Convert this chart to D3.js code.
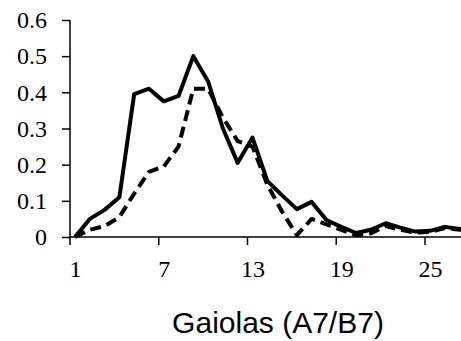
<!DOCTYPE html>
<html>
<head>
<meta charset="utf-8">
<script src="https://cdn.jsdelivr.net/npm/d3@7"></script>
<style>
  body { margin: 0; background: #fff; }
  .axis path, .axis line { stroke: #000; stroke-width: 1.5; }
</style>
</head>
<body>
<script>
var width = 461,
    height = 341;

// Gaiolas 1..28
var gaiolas = d3.range(1, 29);
var serieA = [0, 0.05, 0.075, 0.11, 0.395, 0.41, 0.375, 0.39, 0.5, 0.43, 0.3, 0.205, 0.275, 0.155,
              0.115, 0.077, 0.097, 0.047, 0.028, 0.011, 0.02, 0.038, 0.026, 0.015, 0.017, 0.028, 0.022, 0.02];
var serieB = [0, 0.02, 0.03, 0.055, 0.12, 0.18, 0.195, 0.25, 0.41, 0.41, 0.33, 0.265, 0.25, 0.145,
              0.07, 0.005, 0.05, 0.035, 0.02, 0.005, 0.01, 0.03, 0.02, 0.012, 0.014, 0.025, 0.02, 0.02];
var xTicks = [1, 7, 13, 19, 25];
var yTicks = [0, 0.1, 0.2, 0.3, 0.4, 0.5, 0.6];
var xTitle = "Gaiolas (A7/B7)";

var x = d3.scaleLinear().domain([1, 25]).range([75, 430]);
var y = d3.scaleLinear().domain([0, 0.6]).range([237, 20]);

var svg = d3.select("body").append("svg")
    .attr("width", width)
    .attr("height", height);

// y axis
svg.append("g")
    .attr("class", "axis")
    .attr("transform", "translate(70,0)")
    .call(d3.axisLeft(y).tickValues(yTicks).tickSize(8).tickPadding(15)
      .tickFormat(function(d) { return d === 0 ? "0" : d3.format(".1f")(d); }))
    .call(g => g.select(".domain").attr("d", "M0," + y(0.6) + "V" + y(0)));

// x axis (tick marks sit a bit left of the labels, as in the original)
var xa = svg.append("g")
    .attr("class", "axis")
    .attr("transform", "translate(0," + y(0) + ")")
    .call(d3.axisBottom(x).tickValues(xTicks).tickSize(8).tickPadding(15))
    .call(g => g.select(".domain").attr("d", "M70,0H" + width));
xa.selectAll(".tick line").attr("transform", "translate(-5.5,0)");

svg.selectAll(".axis").attr("font-family", "Liberation Serif").attr("font-size", 24);
svg.selectAll(".tick text").attr("fill", "#000");

var line = d3.line()
    .x((d, i) => x(gaiolas[i]))
    .y(d => y(d));

svg.append("path")
    .datum(serieB)
    .attr("fill", "none")
    .attr("stroke", "#000")
    .attr("stroke-width", 4)
    .attr("stroke-dasharray", "11,6")
    .attr("stroke-linejoin", "round")
    .attr("d", line);

svg.append("path")
    .datum(serieA)
    .attr("fill", "none")
    .attr("stroke", "#000")
    .attr("stroke-width", 4)
    .attr("stroke-linejoin", "round")
    .attr("d", line);

svg.append("text")
    .attr("x", 278)
    .attr("y", 333)
    .attr("text-anchor", "middle")
    .attr("font-family", "Liberation Sans")
    .attr("font-size", 30)
    .text(xTitle);
</script>
</body>
</html>
